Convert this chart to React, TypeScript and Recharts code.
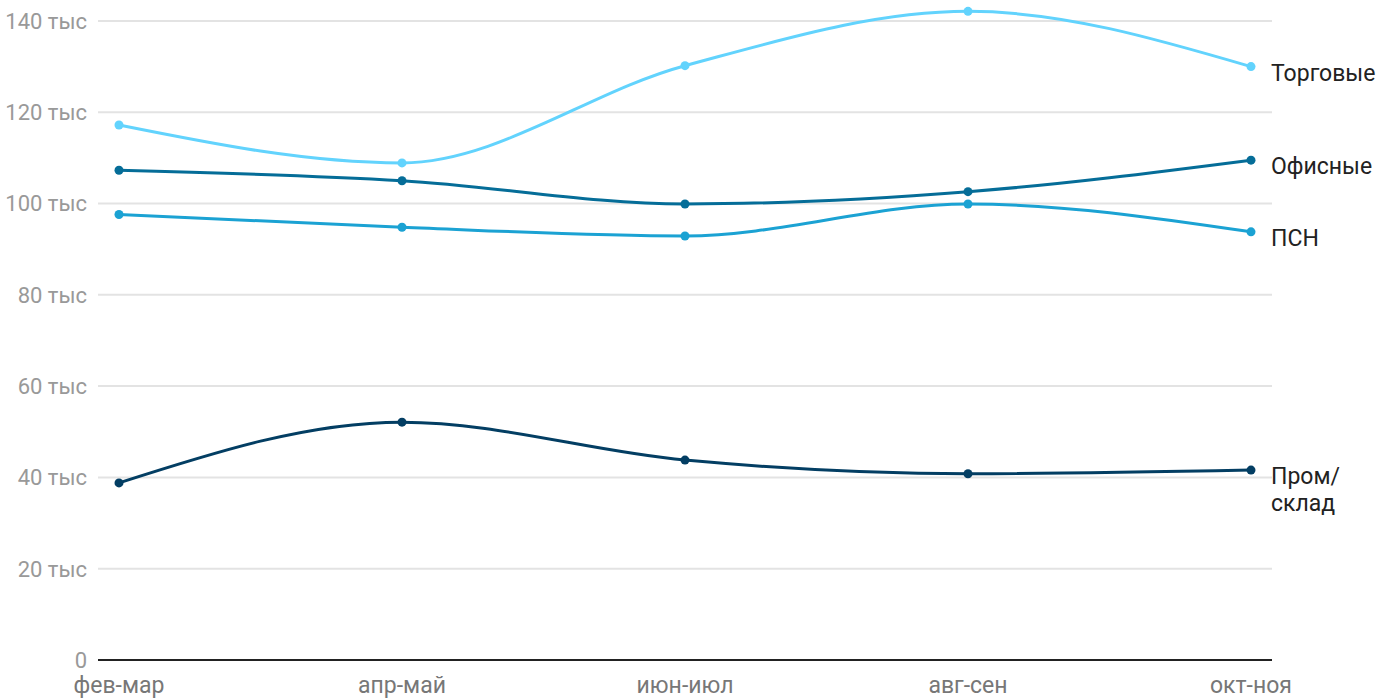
import { LineChart, Line, XAxis, YAxis, CartesianGrid } from "recharts";

const periods = ["фев-мар", "апр-май", "июн-июл", "авг-сен", "окт-ноя"];
const trade = [117.2, 108.9, 130.2, 142.1, 130.0];
const office = [107.3, 105.0, 99.9, 102.6, 109.5];
const psn = [97.6, 94.8, 92.9, 99.9, 93.8];
const warehouse = [38.8, 52.1, 43.8, 40.8, 41.6];
const yTicks = [0, 20, 40, 60, 80, 100, 120, 140];

const series = [
  { key: "trade", name: ["Торговые"], color: "#62d3fd" },
  { key: "office", name: ["Офисные"], color: "#056d98" },
  { key: "psn", name: ["ПСН"], color: "#1ba2d3" },
  { key: "warehouse", name: ["Пром/", "склад"], color: "#033e63" },
];

const data = periods.map((p, i) => ({
  period: p,
  trade: trade[i],
  office: office[i],
  psn: psn[i],
  warehouse: warehouse[i],
}));

const font = "Roboto, sans-serif";

function endLabel(lines: string[]) {
  return (props: any) => {
    const { x, y, index } = props;
    if (index !== periods.length - 1) return null;
    return (
      <text x={x + 20} y={y + 14} fill="#222" fontSize={23} fontFamily={font}>
        {lines.map((l, i) => (
          <tspan key={i} x={x + 20} dy={i === 0 ? 0 : 27}>
            {l}
          </tspan>
        ))}
      </text>
    );
  };
}

const fmt = (v: number) => (v === 0 ? "0" : `${v} тыс`);

export default function App() {
  return (
    <div style={{ position: "absolute", left: 0, top: 0, width: 1400, height: 700 }}>
      <LineChart
        width={1400}
        height={700}
        data={data}
        margin={{ top: 10, right: 128, left: 0, bottom: 0 }}
      >
        <CartesianGrid
          vertical={false}
          horizontalValues={yTicks}
          stroke="#e3e3e3"
          strokeWidth={2}
        />
        <XAxis
          dataKey="period"
          padding={{ left: 21, right: 21 }}
          height={40}
          tickSize={0}
          tickMargin={17}
          axisLine={{ stroke: "#222", strokeWidth: 2 }}
          tick={{ fill: "#777", fontSize: 23, fontFamily: font }}
        />
        <YAxis
          type="number"
          domain={[0, 142.4]}
          ticks={yTicks}
          width={98}
          tickSize={0}
          tickMargin={11}
          axisLine={false}
          tickFormatter={fmt}
          tick={{ fill: "#999", fontSize: 22, fontFamily: font }}
        />
        {series.map((s) => (
          <Line
            key={s.key}
            type="monotone"
            dataKey={s.key}
            stroke={s.color}
            strokeWidth={3}
            dot={{ r: 4.5, fill: s.color, stroke: s.color, strokeWidth: 0 }}
            activeDot={false}
            isAnimationActive={false}
            label={endLabel(s.name)}
          />
        ))}
      </LineChart>
    </div>
  );
}
